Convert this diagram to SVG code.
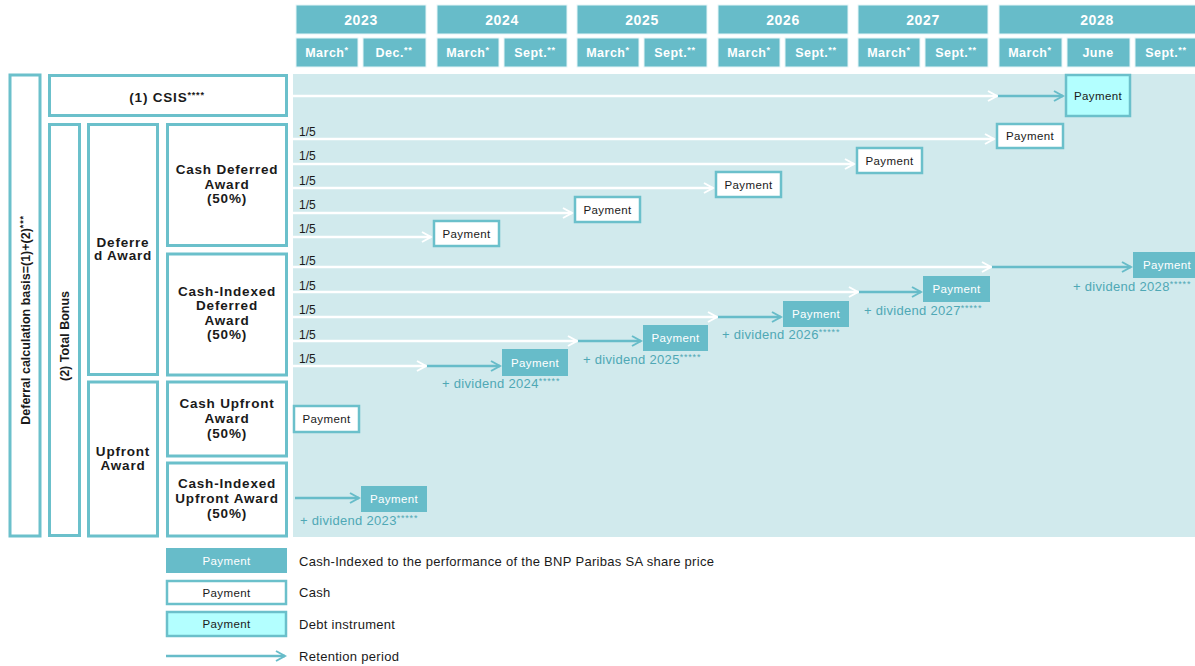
<svg xmlns="http://www.w3.org/2000/svg" width="1195" height="666" viewBox="0 0 1195 666">
<style>
.hdr{fill:#67bcc9;stroke:#e6f5f7;stroke-width:1}
.ht{font-family:"Liberation Sans",Arial,sans-serif;font-weight:bold;fill:#fff;text-anchor:middle}
.yr{font-size:14px;letter-spacing:0.6px}
.mo{font-size:12.5px;letter-spacing:0.5px}
.lbox{fill:#fff;stroke:#6bc0cb;stroke-width:3}
.lt{font-family:"Liberation Sans",Arial,sans-serif;font-weight:bold;font-size:13.5px;fill:#1a1a1a;text-anchor:middle;letter-spacing:0.8px}
.vt{font-family:"Liberation Sans",Arial,sans-serif;font-weight:bold;font-size:12.5px;fill:#1a1a1a;text-anchor:middle}
.cash{fill:#fff;stroke:#6bc0cb;stroke-width:2.5}
.idx{fill:#67bcc9}
.debt{fill:#b3ffff;stroke:#6bc0cb;stroke-width:2.5}
.pt{font-family:"Liberation Sans",Arial,sans-serif;font-size:11.5px;fill:#1a1a1a;text-anchor:middle;letter-spacing:0.4px}
.pw{font-family:"Liberation Sans",Arial,sans-serif;font-size:11.5px;fill:#fff;text-anchor:middle;letter-spacing:0.4px}
.fr{font-family:"Liberation Sans",Arial,sans-serif;font-size:12px;fill:#1a1a1a}
.dv{font-family:"Liberation Sans",Arial,sans-serif;font-size:13px;fill:#4fa8b5;letter-spacing:0.3px}
.lg{font-family:"Liberation Sans",Arial,sans-serif;font-size:13px;fill:#1a1a1a;letter-spacing:0.3px}
.wl{stroke:#fff;stroke-width:2.5;fill:none;marker-end:url(#aw)}
.tl{stroke:#67bcc9;stroke-width:2.5;fill:none;marker-end:url(#at)}
.sup{font-size:9px;letter-spacing:0.8px}
</style>
<defs>
<marker id="aw" viewBox="0 0 12 12" markerWidth="12" markerHeight="12" refX="10" refY="6" orient="auto" markerUnits="userSpaceOnUse"><path d="M1,1 L10,6 L1,11" fill="none" stroke="#fff" stroke-width="2"/></marker>
<marker id="at" viewBox="0 0 12 12" markerWidth="12" markerHeight="12" refX="10" refY="6" orient="auto" markerUnits="userSpaceOnUse"><path d="M1,1 L10,6 L1,11" fill="none" stroke="#67bcc9" stroke-width="2"/></marker>
</defs>
<rect width="1195" height="666" fill="#fff"/>

<g id="header">
<rect class="hdr" x="296" y="5" width="130" height="29"/><text class="ht yr" x="361" y="24.5">2023</text>
<rect class="hdr" x="437" y="5" width="130" height="29"/><text class="ht yr" x="502" y="24.5">2024</text>
<rect class="hdr" x="577" y="5" width="130" height="29"/><text class="ht yr" x="642" y="24.5">2025</text>
<rect class="hdr" x="718" y="5" width="130" height="29"/><text class="ht yr" x="783" y="24.5">2026</text>
<rect class="hdr" x="858" y="5" width="130" height="29"/><text class="ht yr" x="923" y="24.5">2027</text>
<rect class="hdr" x="999" y="5" width="200" height="29"/><text class="ht yr" x="1097" y="24.5">2028</text>

<rect class="hdr" x="296" y="38" width="62" height="29"/><text class="ht mo" x="327" y="57">March<tspan class="sup" dy="-4">*</tspan></text>
<rect class="hdr" x="363" y="38" width="63" height="29"/><text class="ht mo" x="394" y="57">Dec.<tspan class="sup" dy="-4">**</tspan></text>
<rect class="hdr" x="437" y="38" width="62" height="29"/><text class="ht mo" x="468" y="57">March<tspan class="sup" dy="-4">*</tspan></text>
<rect class="hdr" x="504" y="38" width="63" height="29"/><text class="ht mo" x="535" y="57">Sept.<tspan class="sup" dy="-4">**</tspan></text>
<rect class="hdr" x="577" y="38" width="62" height="29"/><text class="ht mo" x="608" y="57">March<tspan class="sup" dy="-4">*</tspan></text>
<rect class="hdr" x="644" y="38" width="63" height="29"/><text class="ht mo" x="675" y="57">Sept.<tspan class="sup" dy="-4">**</tspan></text>
<rect class="hdr" x="718" y="38" width="62" height="29"/><text class="ht mo" x="749" y="57">March<tspan class="sup" dy="-4">*</tspan></text>
<rect class="hdr" x="785" y="38" width="63" height="29"/><text class="ht mo" x="816" y="57">Sept.<tspan class="sup" dy="-4">**</tspan></text>
<rect class="hdr" x="858" y="38" width="62" height="29"/><text class="ht mo" x="889" y="57">March<tspan class="sup" dy="-4">*</tspan></text>
<rect class="hdr" x="925" y="38" width="63" height="29"/><text class="ht mo" x="956" y="57">Sept.<tspan class="sup" dy="-4">**</tspan></text>
<rect class="hdr" x="999" y="38" width="63" height="29"/><text class="ht mo" x="1030" y="57">March<tspan class="sup" dy="-4">*</tspan></text>
<rect class="hdr" x="1067" y="38" width="63" height="29"/><text class="ht mo" x="1098" y="57">June</text>
<rect class="hdr" x="1135" y="38" width="64" height="29"/><text class="ht mo" x="1166" y="57">Sept.<tspan class="sup" dy="-4">**</tspan></text>
</g>

<rect id="panel" x="293" y="74" width="902" height="463" fill="#d1eaed"/>

<g id="left-labels">
<g id="n-basis"><rect class="lbox" x="10" y="75" width="30" height="461"/><text class="vt" transform="translate(29.5,320) rotate(-90)">Deferral calculation basis=(1)+(2)<tspan class="sup" dy="-4">***</tspan></text></g>
<g id="n-csis"><rect class="lbox" x="49.5" y="75.5" width="237" height="40"/><text class="lt" x="167" y="101.5">(1) CSIS<tspan class="sup" dy="-4">****</tspan></text></g>
<g id="n-total"><rect class="lbox" x="49.5" y="124.5" width="30" height="411"/><text class="vt" transform="translate(68.5,336) rotate(-90)">(2) Total Bonus</text></g>
<g id="n-deferred"><rect class="lbox" x="88.5" y="124.5" width="69" height="250"/><text class="lt" x="123" y="247">Deferre</text><text class="lt" x="123" y="260">d Award</text></g>
<g id="n-cashdef"><rect class="lbox" x="167.5" y="124.5" width="119" height="121"/><text class="lt" x="227" y="174">Cash Deferred</text><text class="lt" x="227" y="188.5">Award</text><text class="lt" x="227" y="203">(50%)</text></g>
<g id="n-idxdef"><rect class="lbox" x="167.5" y="254" width="119" height="121"/><text class="lt" x="227" y="296">Cash-Indexed</text><text class="lt" x="227" y="310">Deferred</text><text class="lt" x="227" y="325">Award</text><text class="lt" x="227" y="339">(50%)</text></g>
<g id="n-upfront"><rect class="lbox" x="88.5" y="382" width="69" height="154"/><text class="lt" x="123" y="455.5">Upfront</text><text class="lt" x="123" y="469.5">Award</text></g>
<g id="n-cashup"><rect class="lbox" x="167.5" y="382" width="119" height="74"/><text class="lt" x="227" y="408">Cash Upfront</text><text class="lt" x="227" y="423">Award</text><text class="lt" x="227" y="437.5">(50%)</text></g>
<g id="n-idxup"><rect class="lbox" x="167.5" y="463" width="119" height="73"/><text class="lt" x="227" y="488">Cash-Indexed</text><text class="lt" x="227" y="503">Upfront Award</text><text class="lt" x="227" y="518">(50%)</text></g>
</g>

<g id="fractions">
<text class="fr" x="299" y="136">1/5</text>
<text class="fr" x="299" y="160">1/5</text>
<text class="fr" x="299" y="185">1/5</text>
<text class="fr" x="299" y="209">1/5</text>
<text class="fr" x="299" y="233">1/5</text>
<text class="fr" x="299" y="265">1/5</text>
<text class="fr" x="299" y="290">1/5</text>
<text class="fr" x="299" y="314">1/5</text>
<text class="fr" x="299" y="339">1/5</text>
<text class="fr" x="299" y="363">1/5</text>
</g>

<g id="connectors">
<line class="wl" x1="293" y1="96" x2="997" y2="96"/>
<line class="tl" x1="998" y1="96" x2="1063" y2="96"/>
<line class="wl" x1="293" y1="139" x2="994" y2="139"/>
<line class="wl" x1="293" y1="164" x2="854" y2="164"/>
<line class="wl" x1="293" y1="188" x2="713" y2="188"/>
<line class="wl" x1="293" y1="213" x2="572" y2="213"/>
<line class="wl" x1="293" y1="237" x2="431" y2="237"/>
<line class="wl" x1="293" y1="267" x2="991" y2="267"/>
<line class="tl" x1="992" y1="267" x2="1131" y2="267"/>
<line class="wl" x1="293" y1="292" x2="858" y2="292"/>
<line class="tl" x1="859" y1="292" x2="921" y2="292"/>
<line class="wl" x1="293" y1="317" x2="717" y2="317"/>
<line class="tl" x1="718" y1="317" x2="781" y2="317"/>
<line class="wl" x1="293" y1="341" x2="577" y2="341"/>
<line class="tl" x1="578" y1="341" x2="641" y2="341"/>
<line class="wl" x1="293" y1="366" x2="426" y2="366"/>
<line class="tl" x1="427" y1="366" x2="500" y2="366"/>
<line class="tl" x1="295" y1="498" x2="359" y2="498"/>
</g>

<g id="p-csis"><rect class="debt" x="1066" y="75" width="64" height="41"/><text class="pt" x="1098" y="100">Payment</text></g>
<g id="p-c1"><rect class="cash" x="997" y="124" width="66" height="24"/><text class="pt" x="1030" y="140">Payment</text></g>
<g id="p-c2"><rect class="cash" x="857" y="148" width="65" height="25"/><text class="pt" x="889.5" y="165">Payment</text></g>
<g id="p-c3"><rect class="cash" x="716" y="172" width="65" height="25"/><text class="pt" x="748.5" y="189">Payment</text></g>
<g id="p-c4"><rect class="cash" x="575" y="197" width="65" height="25"/><text class="pt" x="607.5" y="214">Payment</text></g>
<g id="p-c5"><rect class="cash" x="434" y="221" width="65" height="25"/><text class="pt" x="466.5" y="238">Payment</text></g>

<g id="p-i1"><rect class="idx" x="1133" y="252" width="70" height="26"/><text class="pw" x="1167" y="269">Payment</text><text class="dv" x="1073" y="291">+ dividend 2028<tspan class="sup" dy="-4">*****</tspan></text></g>
<g id="p-i2"><rect class="idx" x="923" y="276" width="67" height="26"/><text class="pw" x="956.5" y="293">Payment</text><text class="dv" x="864" y="314.5">+ dividend 2027<tspan class="sup" dy="-4">*****</tspan></text></g>
<g id="p-i3"><rect class="idx" x="783" y="301" width="66" height="26"/><text class="pw" x="816" y="318">Payment</text><text class="dv" x="722" y="339">+ dividend 2026<tspan class="sup" dy="-4">*****</tspan></text></g>
<g id="p-i4"><rect class="idx" x="643" y="325" width="65" height="26"/><text class="pw" x="675.5" y="342">Payment</text><text class="dv" x="583" y="363.5">+ dividend 2025<tspan class="sup" dy="-4">*****</tspan></text></g>
<g id="p-i5"><rect class="idx" x="502" y="349" width="66" height="27"/><text class="pw" x="535" y="367">Payment</text><text class="dv" x="442" y="387.5">+ dividend 2024<tspan class="sup" dy="-4">*****</tspan></text></g>

<g id="p-up-cash"><rect class="cash" x="294" y="406" width="65" height="26"/><text class="pt" x="326.5" y="423">Payment</text></g>
<g id="p-up-idx"><rect class="idx" x="361" y="486" width="66" height="26"/><text class="pw" x="394" y="503">Payment</text><text class="dv" x="300" y="524.5">+ dividend 2023<tspan class="sup" dy="-4">*****</tspan></text></g>

<g id="legend">
<rect class="idx" x="166" y="548" width="121" height="25"/><text class="pw" x="226.5" y="565">Payment</text>
<text class="lg" x="299" y="565.5">Cash-Indexed to the performance of the BNP Paribas SA share price</text>
<rect class="cash" x="167" y="581" width="119" height="23"/><text class="pt" x="226.5" y="596.5">Payment</text>
<text class="lg" x="299" y="596.5">Cash</text>
<rect class="debt" x="167" y="612" width="119" height="24"/><text class="pt" x="226.5" y="628">Payment</text>
<text class="lg" x="299" y="628.5">Debt instrument</text>
<line class="tl" x1="166" y1="656" x2="285" y2="656"/>
<text class="lg" x="299" y="660.5">Retention period</text>
</g>
</svg>
